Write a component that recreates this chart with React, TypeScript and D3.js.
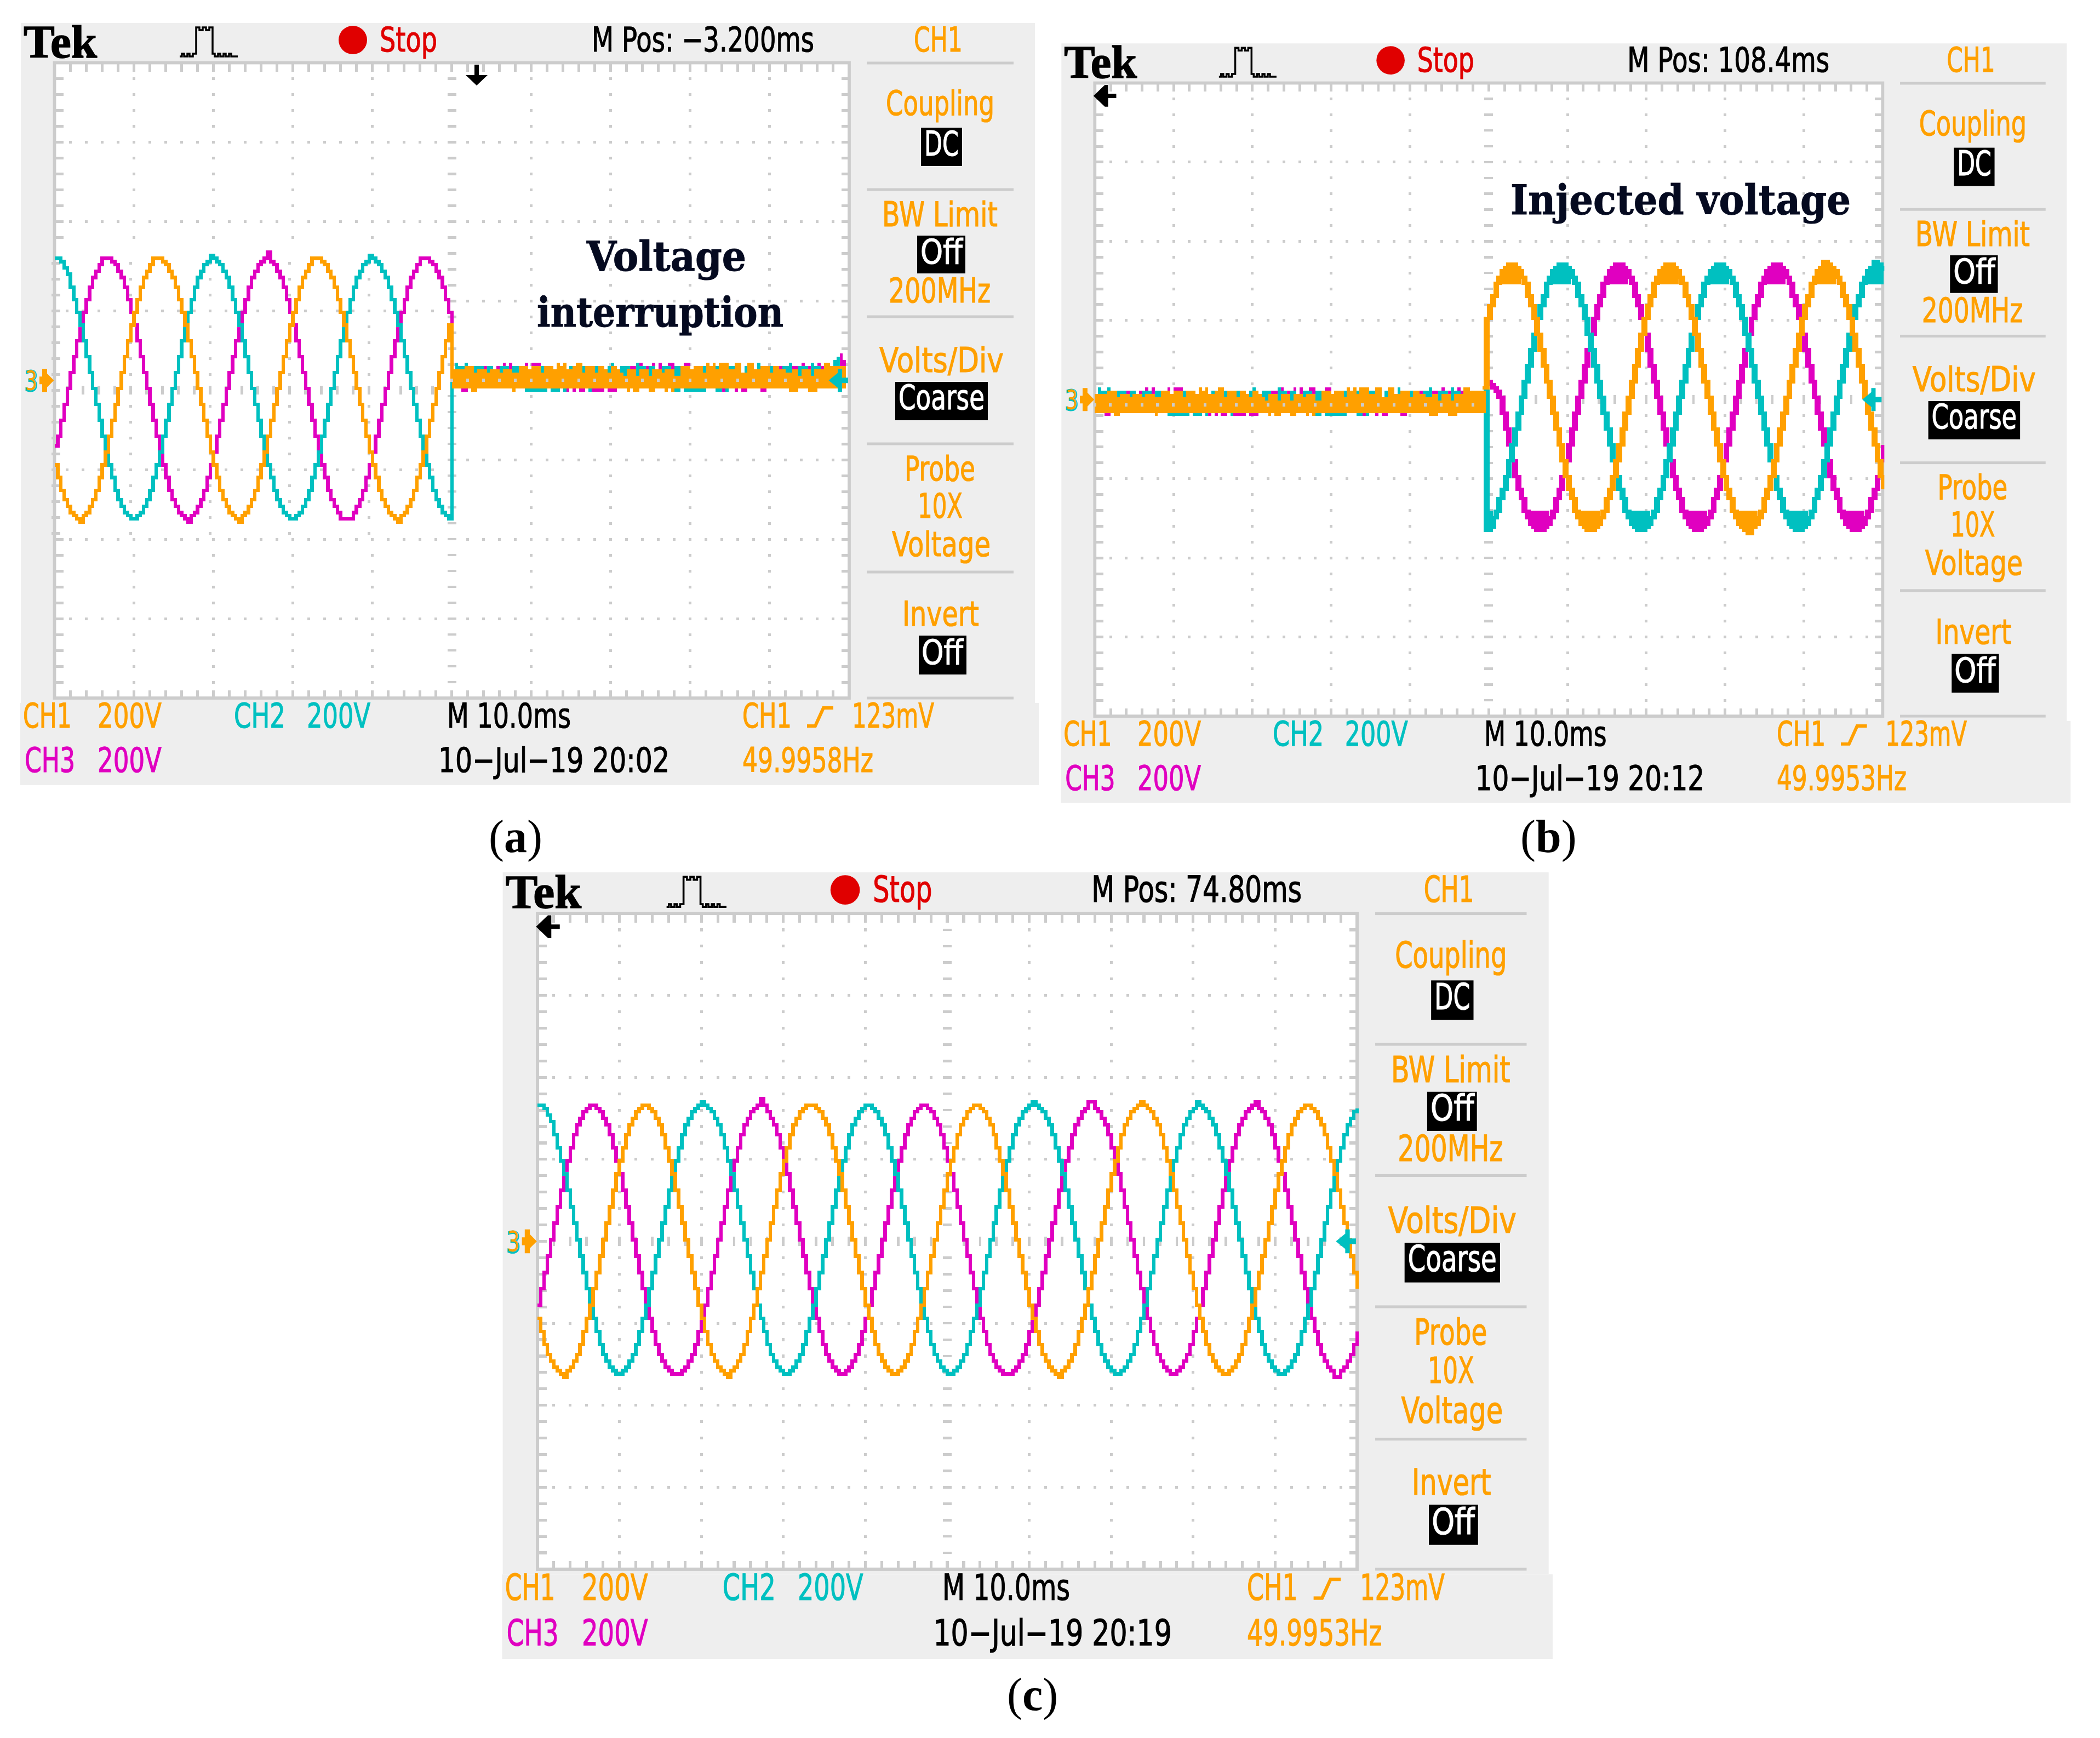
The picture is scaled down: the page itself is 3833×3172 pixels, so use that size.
import React from 'react';
import * as d3 from 'd3';

// trace values are in scope LCD rows above the centre line (25 rows per division), one per LCD column
const aCyan = [
  41,41,40,38,36,32,28,24,20,15,10,5,0,-5,-10,-15,-20,-24,-28,-32,-35,-37,-39,-40,-41,-41,-40,-39,-37,-35,-32,-28,-24,-20,-15,-10,-5,0,5,10,15,20,24,28,32,35,37,39,40,42,
  41,40,39,37,35,32,28,24,20,15,10,5,0,-5,-10,-15,-20,-24,-28,-32,-35,-37,-39,-40,-41,-41,-40,-39,-37,-35,-32,-28,-24,-20,-15,-10,-5,0,5,10,15,20,24,28,32,35,37,39,40,42,
  41,40,39,37,35,32,28,24,20,15,10,5,0,-5,-10,-15,-20,-24,-28,-32,-35,-37,-39,-40,-41,3,
];
const aMagenta = [
  -18,-15,-10,-5,0,5,10,15,20,24,28,32,35,37,39,41,41,
  41,40,39,37,35,32,28,24,20,15,10,5,0,-5,-10,-15,-20,-24,-28,-32,-35,-37,-39,-40,-41,-42,-40,-39,-37,-35,-32,-28,-24,-20,-15,-10,-5,0,5,10,15,20,24,28,32,35,37,39,40,41,
  43,40,39,37,35,32,28,24,20,15,10,5,0,-5,-10,-15,-20,-24,-28,-32,-35,-37,-39,-41,-41,-41,-41,-39,-37,-35,-32,-28,-24,-20,-15,-10,-5,0,5,10,15,20,24,28,32,35,37,39,41,41,
  41,40,39,37,35,32,28,24,3,
];
const aOrange = [
  -24,-28,-32,-35,-37,-39,-40,-41,-42,-40,-39,-37,-35,-32,-28,-24,-20,-15,-10,-5,0,5,10,15,20,24,28,32,35,37,39,41,41,
  41,40,39,37,35,32,28,24,20,15,10,5,0,-5,-10,-15,-20,-24,-28,-32,-35,-37,-39,-40,-41,-42,-40,-39,-37,-35,-32,-28,-24,-20,-15,-10,-5,0,5,10,15,20,24,28,32,35,37,39,41,41,
  41,40,39,37,35,32,28,24,20,15,10,5,0,-5,-10,-15,-20,-24,-28,-32,-35,-37,-39,-40,-41,-42,-40,-39,-37,-35,-32,-28,-24,-20,-15,-10,-5,0,5,10,15,20,3,
];

const bCyan = [
  3,-42,-41,-38,-36,-32,-29,-25,-20,-15,-10,-5,0,5,10,15,20,25,29,32,36,38,40,41,42,
  42,41,40,38,36,32,29,25,20,15,10,5,0,-5,-10,-15,-20,-25,-29,-32,-36,-38,-40,-41,-42,-42,-41,-40,-38,-36,-32,-29,-25,-20,-15,-10,-5,0,5,10,15,20,25,29,32,36,38,40,41,42,
  42,41,40,38,36,32,29,25,20,15,10,5,0,-5,-10,-15,-20,-25,-29,-32,-36,-38,-40,-41,-42,-42,-41,-40,-38,-36,-32,-29,-25,-20,-15,-10,-5,0,5,10,15,20,25,29,32,36,38,40,41,43,
  42,41,40,
];
const bMagenta = [
  3,5,4,3,2,0,-5,-10,-15,-20,-25,-29,-32,-36,-38,-40,-41,-42,-42,-41,-40,-38,-36,-32,-29,-25,-20,-15,-10,-5,0,5,10,15,20,25,29,32,36,38,40,41,42,
  42,41,40,38,36,32,29,25,20,15,10,5,0,-5,-10,-15,-20,-25,-29,-32,-36,-38,-40,-41,-42,-42,-41,-40,-38,-36,-32,-29,-25,-20,-15,-10,-5,0,5,10,15,20,25,29,32,36,38,40,41,42,
  42,41,40,38,36,32,29,25,20,15,10,5,0,-5,-10,-15,-20,-25,-29,-32,-36,-38,-40,-41,-42,-42,-41,-40,-38,-36,-32,-29,-25,-20,-15,
];
const bOrange = [
  3,25,29,32,36,38,40,41,42,
  42,41,40,38,36,32,29,25,20,15,10,5,0,-5,-10,-15,-20,-25,-29,-32,-36,-38,-40,-41,-42,-42,-41,-40,-38,-36,-32,-29,-25,-20,-15,-10,-5,0,5,10,15,20,25,29,32,36,38,40,41,42,
  42,41,40,38,36,32,29,25,20,15,10,5,0,-5,-10,-15,-20,-25,-29,-32,-36,-38,-40,-41,-42,-43,-41,-40,-38,-36,-32,-29,-25,-20,-15,-10,-5,0,5,10,15,20,25,29,32,36,38,40,41,43,
  42,41,40,38,36,32,29,25,20,15,10,5,0,-5,-10,-15,-20,-25,-29,
];

const cCyan = [
  41,41,40,38,36,32,28,24,20,15,10,5,0,-5,-10,-15,-20,-24,-28,-32,-35,-37,-39,-40,-41,-41,-40,-39,-37,-35,-32,-28,-24,-20,-15,-10,-5,0,5,10,15,20,24,28,32,35,37,39,40,41,
  42,41,40,39,37,35,32,28,24,20,15,10,5,0,-5,-10,-15,-20,-24,-28,-32,-35,-37,-39,-40,-41,-41,-40,-39,-37,-35,-32,-28,-24,-20,-15,-10,-5,0,5,10,15,20,24,28,32,35,37,39,40,41,
  41,40,39,37,35,32,28,24,20,15,10,5,0,-5,-10,-15,-20,-24,-28,-32,-35,-37,-39,-40,-41,-41,-40,-39,-37,-35,-32,-28,-24,-20,-15,-10,-5,0,5,10,15,20,24,28,32,35,37,39,40,41,
  42,41,40,39,37,35,32,28,24,20,15,10,5,0,-5,-10,-15,-20,-24,-28,-32,-35,-37,-39,-40,-41,-41,-40,-39,-37,-35,-32,-28,-24,-20,-15,-10,-5,0,5,10,15,20,24,28,32,35,37,39,40,42,
  41,40,39,37,35,32,28,24,20,15,10,5,0,-5,-10,-15,-20,-24,-28,-32,-35,-37,-39,-40,-41,-41,-40,-39,-37,-35,-32,-28,-24,-20,-15,-10,-5,0,5,10,15,20,24,28,32,35,37,39,40,
];
const cMagenta = [
  -20,-15,-10,-5,0,5,10,15,20,24,28,32,35,37,39,40,41,
  41,40,39,37,35,32,28,24,20,15,10,5,0,-5,-10,-15,-20,-24,-28,-32,-35,-37,-39,-40,-41,-41,-41,-40,-39,-37,-35,-32,-28,-24,-20,-15,-10,-5,0,5,10,15,20,24,28,32,35,37,39,40,41,
  43,41,39,37,35,32,28,24,20,15,10,5,0,-5,-10,-15,-20,-24,-28,-32,-35,-37,-39,-40,-41,-41,-40,-39,-37,-35,-32,-28,-24,-20,-15,-10,-5,0,5,10,15,20,24,28,32,35,37,39,40,41,
  41,40,39,37,35,32,28,24,20,15,10,5,0,-5,-10,-15,-20,-24,-28,-32,-35,-37,-39,-40,-41,-41,-41,-40,-39,-37,-35,-32,-28,-24,-20,-15,-10,-5,0,5,10,15,20,24,28,32,35,37,39,40,42,
  42,40,39,37,35,32,28,24,20,15,10,5,0,-5,-10,-15,-20,-24,-28,-32,-35,-37,-39,-40,-41,-41,-40,-39,-37,-35,-32,-28,-24,-20,-15,-10,-5,0,5,10,15,20,24,28,32,35,37,39,40,41,
  42,40,39,37,35,32,28,24,20,15,10,5,0,-5,-10,-15,-20,-24,-28,-32,-35,-37,-39,-40,-42,-42,-40,-39,-37,-35,-32,-28,
];
const cOrange = [
  -24,-28,-32,-35,-37,-39,-40,-41,-42,-40,-39,-37,-35,-32,-28,-24,-20,-15,-10,-5,0,5,10,15,20,24,28,32,35,37,39,40,41,
  41,40,39,37,35,32,28,24,20,15,10,5,0,-5,-10,-15,-20,-24,-28,-32,-35,-37,-39,-40,-41,-42,-40,-39,-37,-35,-32,-28,-24,-20,-15,-10,-5,0,5,10,15,20,24,28,32,35,37,39,40,41,
  41,41,40,39,37,35,32,28,24,20,15,10,5,0,-5,-10,-15,-20,-24,-28,-32,-35,-37,-39,-40,-41,-41,-40,-39,-37,-35,-32,-28,-24,-20,-15,-10,-5,0,5,10,15,20,24,28,32,35,37,39,40,41,
  41,40,39,37,35,32,28,24,20,15,10,5,0,-5,-10,-15,-20,-24,-28,-32,-35,-37,-39,-40,-41,-42,-40,-39,-37,-35,-32,-28,-24,-20,-15,-10,-5,0,5,10,15,20,24,28,32,35,37,39,40,41,
  42,41,40,39,37,35,32,28,24,20,15,10,5,0,-5,-10,-15,-20,-24,-28,-32,-35,-37,-39,-40,-41,-41,-40,-39,-37,-35,-32,-28,-24,-20,-15,-10,-5,0,5,10,15,20,24,28,32,35,37,39,40,41,
  41,40,39,37,35,32,28,24,20,15,10,5,0,-5,-10,-15,
];

// noisy flat stretch: panels (a) and (b) show the same noise, columns counted as in (a) from 125
const flatTop = [
  3,3,3,3,4,4,4,2,3,3,3,2,3,3,3,2,3,3,3,2,2,4,4,4,3,4,4,4,2,4,4,4,3,5,4,5,3,3,4,5,5,2,4,4,4,2,4,4,3,2,4,4,3,2,1,3,3,3,1,3,3,3,1,3,3,3,2,3,3,3,1,1,
  4,4,4,3,4,4,4,2,5,4,5,3,5,5,5,3,3,5,5,2,2,5,5,3,3,4,4,4,2,4,4,3,3,2,2,3,3,1,3,3,3,1,3,3,3,5,5,4,4,4,4,4,4,
];
const flatLowCols = [131, 132, 144, 180, 182, 183, 187, 188, 192, 194, 231, 232, 233, 237, 238, 239];
const magentaPokeCols = [141, 143, 148, 150, 151, 152, 184, 188, 190, 193, 194, 198, 199, 235, 240];
const magentaHighCols = [126, 130, 135, 139, 181, 182, 186, 228, 232, 233, 237, 241];
const magentaBelowCols = [128, 129, 161, 163, 165, 166, 169, 170, 171, 172, 174, 175, 176, 210, 214, 216, 217, 222, 223];
const cyanPokeCols = [126, 129, 175, 183, 221, 231, 238];
const cyanHighCols = [127, 128, 132, 133, 134, 136, 137, 140, 141, 142, 144, 145, 153, 162, 166, 170, 174, 178, 179, 180, 183, 184, 185, 187, 188, 191, 192, 193, 195, 196, 204, 208, 212, 213, 217, 225, 229, 230, 234, 235, 236, 238, 239, 240];
const cyanBelowCols = [144, 148, 149, 150, 151, 152, 153, 154, 156, 157, 158, 160, 168, 195, 196, 198, 199, 200, 201, 202, 203, 204, 208, 209, 211];
// last columns of panel (a), where the noise climbs just before the edge
const endMagentaCols = [246, 247, 248];
const endMagentaTop = [6, 8, 6];
const endCyanCols = [245, 246];
const endCyanTop = [6, 7];

const ORANGE = '#ffa000';
const CYAN = '#00c0c0';
const MAGENTA = '#e000c0';
const GRAY = '#cccccc';
const PANEL_BG = '#eeeeee';
const RED = '#e00000';

const FLAT_START = 125;

type PanelCfg = {
  plotX: number; plotY: number; kx: number; ky: number;
  mpos: string; date: string; freq: string;
  magenta: number[]; cyan: number[]; orange: number[];
  traceStart: number; traceShift: number; thick?: boolean;
  flatOffset?: number; flatShift?: number; endGlitch?: boolean;
  arrow: 'down' | 'left';
  seam?: { x1: number; y0: number; y1: number; dx: number; dy: number };
};

const panels: PanelCfg[] = [
  {
    plotX: 99.5, plotY: 114.5, kx: 1, ky: 1,
    mpos: 'M Pos: \u22123.200ms', date: '10\u2212Jul\u221219 20:02', freq: '49.9958Hz',
    magenta: aMagenta, cyan: aCyan, orange: aOrange,
    traceStart: 0, traceShift: 15, flatOffset: 0, flatShift: 0, endGlitch: true, arrow: 'down',
    seam: { x1: 824, y0: 459, y1: 957, dx: -6, dy: 18 },
  },
  {
    plotX: 1998.3, plotY: 151.5, kx: 0.9914, ky: 0.9966,
    mpos: 'M Pos: 108.4ms', date: '10\u2212Jul\u221219 20:12', freq: '49.9953Hz',
    magenta: bMagenta, cyan: bCyan, orange: bOrange,
    traceStart: 123, traceShift: -4, thick: true, flatOffset: -125, flatShift: 10, arrow: 'left',
  },
  {
    plotX: 981, plotY: 1667, kx: 1.0314, ky: 1.0323,
    mpos: 'M Pos: 74.80ms', date: '10\u2212Jul\u221219 20:19', freq: '49.9953Hz',
    magenta: cMagenta, cyan: cCyan, orange: cOrange,
    traceStart: 0, traceShift: -3, arrow: 'left',
  },
];

// panel drawing uses the pixel frame of panel (a); the other two are scaled copies
const xCol = d3.scaleLinear().domain([0, 250]).range([99.5, 1550]);
const yRow = d3.scaleLinear().domain([-100, 100]).range([1274, 114.5]);
const COL = xCol(1) - xCol(0);
const ROW = yRow(0) - yRow(1);

const Label = ({ t, x0, x1, base, fill = ORANGE, size = 63 }: any) => (
  <text x={x0} y={base} fontSize={size} fontFamily="'DejaVu Sans', sans-serif" fill={fill} stroke={fill} strokeWidth={1.2}
    textLength={x1 - x0} lengthAdjust="spacingAndGlyphs">{t}</text>
);

const Grid = ({ seam }: { seam?: PanelCfg['seam'] }) => {
  const cols = d3.range(0, 251, 5);
  const rows = d3.range(-100, 101, 5);
  const place = (x: number, y: number) => {
    if (seam && x < seam.x1 && y > seam.y0 && y < seam.y1) return [x + seam.dx, y + seam.dy];
    return [x, y];
  };
  const items: React.ReactNode[] = [];
  const box = (k: string, x: number, y: number, w: number, h: number) => {
    const [px, py] = place(x, y);
    items.push(<rect key={k} x={px - w / 2} y={py - h / 2} width={w} height={h} fill={GRAY} />);
  };
  cols.forEach(c => {
    if (c === 0 || c === 250) return;
    const x = xCol(c);
    items.push(<rect key={`t${c}`} x={x - 2.5} y={114.5} width={5} height={16} fill={GRAY} />);
    items.push(<rect key={`b${c}`} x={x - 2.5} y={1260} width={5} height={14} fill={GRAY} />);
    if (c !== 125) box(`cr${c}`, x, yRow(0), 4.5, 16);
    rows.forEach(r => {
      if (r === 100 || r === -100) return;
      if (r % 25 === 0 || c % 25 === 0) {
        if (r !== 0 && c !== 125) box(`d${c}_${r}`, x, yRow(r), 5, 5);
      }
    });
  });
  rows.forEach(r => {
    if (r === 100 || r === -100) return;
    const y = yRow(r);
    box(`l${r}`, 99.5 + 8, y, 16, 5);
    items.push(<rect key={`r${r}`} x={1536} y={y - 2.5} width={14} height={5} fill={GRAY} />);
    if (r !== 0) box(`cc${r}`, xCol(125), y, 16, 4.5);
  });
  return <g shapeRendering="crispEdges">{items}</g>;
};

const Trace = ({ values, start, shift, color, thick }: any) => {
  const line = d3.line<number>()
    .x((_, i) => xCol(start + i))
    .y(d => yRow(d) + shift)
    .curve(d3.curveStepAfter);
  const peak = (sign: number) => d3.area<number>()
    .defined(d => d * sign > 36)
    .x((_, i) => xCol(start + i))
    .y0(yRow(36 * sign) + shift)
    .y1(d => yRow(d) + shift)
    .curve(d3.curveStepAfter)(values) || '';
  const d = line(values) || '';
  return (
    <g fill="none" stroke={color} strokeWidth={6.4} strokeLinejoin="miter" shapeRendering="crispEdges" clipPath="url(#plotClip)">
      <path d={d} />
      {thick && <path d={d} transform="translate(4.5,0)" />}
      {thick && <path d={peak(1)} fill={color} strokeWidth={3} />}
      {thick && <path d={peak(-1)} fill={color} strokeWidth={3} />}
    </g>
  );
};

const FlatNoise = ({ offset, shift, endGlitch }: { offset: number; shift: number; endGlitch?: boolean }) => {
  const bars = (k: string, list: number[], hi: number, lo: number, color: string) => list.map(c => (
    <rect key={k + c} x={xCol(c + offset)} width={COL} y={yRow(hi + 0.5) + shift} height={(hi - lo + 1) * ROW} fill={color} />
  ));
  const top = flatTop;
  const area = d3.area<number>()
    .x((_, i) => xCol(FLAT_START + i + offset))
    .y0((_, i) => yRow(flatLowCols.includes(FLAT_START + i) ? -3.5 : -2.5) + shift)
    .y1(d => yRow(d + 0.5) + shift)
    .curve(d3.curveStepAfter);
  const dots = d3.range(0, top.length, 1).filter(i => (FLAT_START + i) % 5 === 0);
  return (
    <g shapeRendering="crispEdges">
      {bars('mp', magentaPokeCols, 5, 4, MAGENTA)}
      {bars('mh', magentaHighCols, 4, 2, MAGENTA)}
      {bars('mb', magentaBelowCols, -3, -3, MAGENTA)}
      {bars('cp', cyanPokeCols, 5, 3, CYAN)}
      {bars('ch', cyanHighCols, 4, 1, CYAN)}
      {bars('cb', cyanBelowCols, -3, -3, CYAN)}
      {endGlitch && endMagentaCols.map((c, i) => bars('em' + i, [c], endMagentaTop[i], 3, MAGENTA))}
      {endGlitch && endCyanCols.map((c, i) => bars('ec' + i, [c], endCyanTop[i], 3, CYAN))}
      <path d={area(top) || ''} fill={ORANGE} />
      {dots.map(i => (
        <rect key={i} x={xCol(FLAT_START + i + offset) - COL / 2} y={yRow(0.5) + shift} width={COL * 0.9} height={ROW} fill={GRAY} />
      ))}
    </g>
  );
};

const menuLabels = [
  { t: 'CH1', x0: 1668, x1: 1757, base: 94 },
  { t: 'Coupling', x0: 1617, x1: 1815, base: 210 },
  { t: 'BW Limit', x0: 1610, x1: 1821, base: 413 },
  { t: '200MHz', x0: 1622, x1: 1808, base: 552 },
  { t: 'Volts/Div', x0: 1605, x1: 1832, base: 679 },
  { t: 'Probe', x0: 1651, x1: 1780, base: 877 },
  { t: '10X', x0: 1675, x1: 1757, base: 945 },
  { t: 'Voltage', x0: 1628, x1: 1808, base: 1015 },
  { t: 'Invert', x0: 1647, x1: 1787, base: 1142 },
];
const menuBoxes = [
  { t: 'DC', x0: 1681, x1: 1756, y0: 233, y1: 303, tx0: 1687, tx1: 1750, base: 284 },
  { t: 'Off', x0: 1674, x1: 1762, y0: 430, y1: 499, tx0: 1680, tx1: 1757, base: 481 },
  { t: 'Coarse', x0: 1634, x1: 1803, y0: 697, y1: 767, tx0: 1640, tx1: 1797, base: 747 },
  { t: 'Off', x0: 1677, x1: 1764, y0: 1160, y1: 1231, tx0: 1682, tx1: 1758, base: 1212 },
];
const menuRules = [115, 346, 578, 810, 1044, 1274];

const Panel = ({ cfg }: { cfg: PanelCfg }) => {
  const tx = cfg.plotX - 99.5 * cfg.kx;
  const ty = cfg.plotY - 114.5 * cfg.ky;
  const cy = yRow(0);
  return (
    <g transform={`translate(${tx},${ty}) scale(${cfg.kx},${cfg.ky})`}>
      <rect x={38} y={42} width={1851} height={1241} fill={PANEL_BG} />
      <rect x={37} y={1283} width={1859} height={150} fill={PANEL_BG} />
      <rect x={99.5} y={114.5} width={1450.5} height={1159.5} fill="#fff" />
      <Grid seam={cfg.seam} />
      <rect x={99.5} y={114.5} width={1450.5} height={1159.5} fill="none" stroke={GRAY} strokeWidth={5.8} />

      <Trace values={cfg.magenta} start={cfg.traceStart} shift={cfg.traceShift} color={MAGENTA} thick={cfg.thick} />
      <Trace values={cfg.cyan} start={cfg.traceStart} shift={cfg.traceShift} color={CYAN} thick={cfg.thick} />
      <Trace values={cfg.orange} start={cfg.traceStart} shift={cfg.traceShift} color={ORANGE} thick={cfg.thick} />
      {cfg.flatOffset !== undefined && <FlatNoise offset={cfg.flatOffset} shift={cfg.flatShift || 0} endGlitch={cfg.endGlitch} />}

      {/* top bar */}
      <text x={43} y={105} fontSize={84} fontWeight="bold" fontFamily="'Liberation Serif', serif" fill="#000" stroke="#000" strokeWidth={1.5} textLength={134} lengthAdjust="spacingAndGlyphs">Tek</text>
      <path d="M328,103 H332 V98 H336 V103 H342 V98 H346 V103 H352 V98 H358 V50 H364 V55 H370 V50 H376 V55 H382 V50 H388 V98 H392 V103 H398 V98 H402 V103 H408 V98 H412 V103 H418 V98 H422 V103 H434"
        fill="none" stroke="#000" strokeWidth={3.5} />
      <circle cx={644} cy={73} r={26} fill={RED} />
      <Label t="Stop" x0={693} x1={798} base={94} fill={RED} />
      <Label t={cfg.mpos} x0={1080} x1={cfg.mpos.length > 14 ? 1486 : 1452} base={94} fill="#000" />

      {/* right menu */}
      {menuRules.map(y => <rect key={y} x={1582} y={y - 2.5} width={268} height={5} fill={GRAY} />)}
      {menuLabels.map(m => <Label key={m.t} {...m} />)}
      {menuBoxes.map((b, i) => (
        <g key={i}>
          <rect x={b.x0} y={b.y0} width={b.x1 - b.x0} height={b.y1 - b.y0} fill="#000" />
          <Label t={b.t} x0={b.tx0} x1={b.tx1} base={b.base} fill="#fff" />
        </g>
      ))}

      {/* bottom status */}
      <Label t="CH1" x0={42} x1={131} base={1328} />
      <Label t="200V" x0={178} x1={295} base={1328} />
      <Label t="CH2" x0={427} x1={521} base={1328} fill={CYAN} />
      <Label t="200V" x0={560} x1={676} base={1328} fill={CYAN} />
      <Label t="M 10.0ms" x0={816} x1={1042} base={1328} fill="#000" />
      <Label t="CH1" x0={1355} x1={1445} base={1328} />
      <path d="M1473,1325 H1488 L1503,1292 H1521" fill="none" stroke={ORANGE} strokeWidth={6} />
      <Label t="123mV" x0={1555} x1={1705} base={1328} />
      <Label t="CH3" x0={45} x1={137} base={1409} fill={MAGENTA} />
      <Label t="200V" x0={178} x1={295} base={1409} fill={MAGENTA} />
      <Label t={cfg.date} x0={800} x1={1222} base={1409} fill="#000" />
      <Label t={cfg.freq} x0={1355} x1={1594} base={1409} />

      {/* ground and trigger markers */}
      <text x={44} y={cy + 20} fontSize={52} fontFamily="'DejaVu Sans', sans-serif" fill={CYAN} stroke={CYAN} strokeWidth={2} textLength={26} lengthAdjust="spacingAndGlyphs">3</text>
      <text x={46} y={cy + 18} fontSize={50} fontFamily="'DejaVu Sans', sans-serif" fill={ORANGE} textLength={22} lengthAdjust="spacingAndGlyphs">3</text>
      <path d={`M97,${cy} L85,${cy - 12} V${cy - 20} H78 V${cy - 6} H73 V${cy + 6} H78 V${cy + 20} H85 V${cy + 12} Z`} fill={ORANGE} stroke={ORANGE} strokeWidth={2} />
      <path d={`M1514,${cy} L1530,${cy - 13} V${cy - 20} H1536 V${cy - 4} H1547 V${cy + 4} H1536 V${cy + 20} H1530 V${cy + 13} Z`} fill={CYAN} stroke={CYAN} strokeWidth={2} />

      {cfg.arrow === 'down'
        ? <path d="M870,156 L850,137 H866 V118 H874 V137 H890 Z" fill="#000" />
        : <path d="M97,138 L118,118 H124 V134 H139 V142 H124 V158 H118 Z" fill="#000" />}
    </g>
  );
};

const Note = ({ t, x0, x1, base }: any) => (
  <text x={x0} y={base} fontSize={74} fontWeight="bold" fontFamily="'DejaVu Serif', serif" fill="#050a20" stroke="#050a20" strokeWidth={1}
    textLength={x1 - x0} lengthAdjust="spacingAndGlyphs">{t}</text>
);

const captions = [
  { letter: 'a', x: 892, base: 1555 },
  { letter: 'b', x: 2775, base: 1555 },
  { letter: 'c', x: 1838, base: 3121 },
];

const App = () => (
  <svg width={3833} height={3172} style={{ position: 'absolute', left: 0, top: 0, display: 'block', background: '#fff' }}>
    <defs>
      <clipPath id="plotClip"><rect x={90} y={100} width={1463} height={1180} /></clipPath>
    </defs>
    {panels.map((p, i) => <Panel key={i} cfg={p} />)}
    <Note t="Voltage" x0={1071} x1={1362} base={494} />
    <Note t="interruption" x0={980} x1={1430} base={596} />
    <Note t="Injected voltage" x0={2757} x1={3378} base={391} />
    {captions.map(c => (
      <text key={c.letter} x={c.x} y={c.base} fontSize={84} fontFamily="'Liberation Serif', serif" fill="#000">
        (<tspan fontWeight="bold">{c.letter}</tspan>)
      </text>
    ))}
  </svg>
);

export default App;
